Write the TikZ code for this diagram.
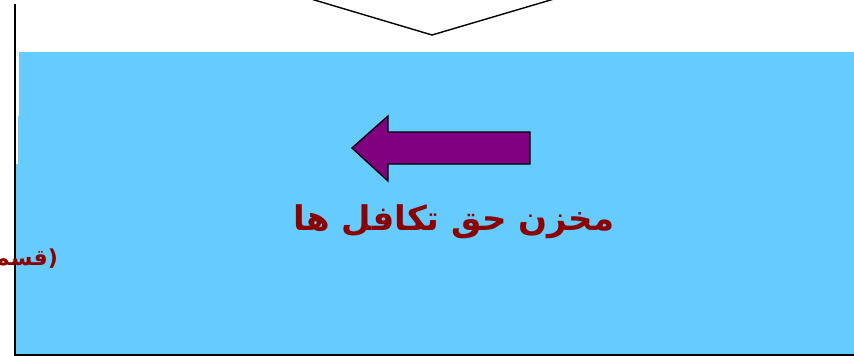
\documentclass[tikz,border=0pt]{standalone}
\usepackage{fontspec}
\TeXXeTstate=1
\newfontfamily\arabicfont[Script=Arabic]{DejaVu Sans}
\newfontfamily\parenfont{DejaVu Sans}
\definecolor{skyfill}{HTML}{66CCFF}
\definecolor{arrowpurple}{HTML}{800080}
\definecolor{textred}{HTML}{8B0000}
\tikzset{
  frameline/.style={black, line width=2pt},
  vline/.style={black, line width=1.4pt},
  arrowshape/.style={fill=arrowpurple, draw=black, line width=1.4pt, line join=miter},
  maintext/.style={text=textred, font=\arabicfont\bfseries\fontsize{34}{40}\selectfont, inner sep=0pt},
  sidetext/.style={text=textred, font=\arabicfont\bfseries\fontsize{22}{26}\selectfont, inner sep=0pt},
}
\begin{document}
\begin{tikzpicture}[x=1pt, y=-1pt]
\useasboundingbox (0,0) rectangle (854,356);
\clip (0,0) rectangle (854,356);
% blue panel
\fill[skyfill] (19,52) -- (854,52) -- (854,355) -- (16,355) -- (16,164) -- (18,164) -- (18,116) -- (19,116) -- cycle;
% frame lines
\coordinate (ltop) at (15,4);
\coordinate (lbot) at (15,355);
\coordinate (rbot) at (854,355);
\draw[frameline] (ltop) -- (lbot) -- (rbot);
% V shape
\coordinate (va) at (311,-1);
\coordinate (vb) at (432,35);
\coordinate (vc) at (554,-1);
\draw[vline] (va) -- (vb) -- (vc);
% arrow
\draw[arrowshape] (352,148) -- (388,116) -- (388,132) -- (530,132) -- (530,164) -- (388,164) -- (388,181) -- cycle;
% texts
\node[maintext] (title) at (454,222) {\beginR مخزن حق تکافل ها\endR};
\node[sidetext, anchor=east] (side) at (58,259) {\beginR قسمـ\endR\parenfont)};
\end{tikzpicture}
\end{document}
